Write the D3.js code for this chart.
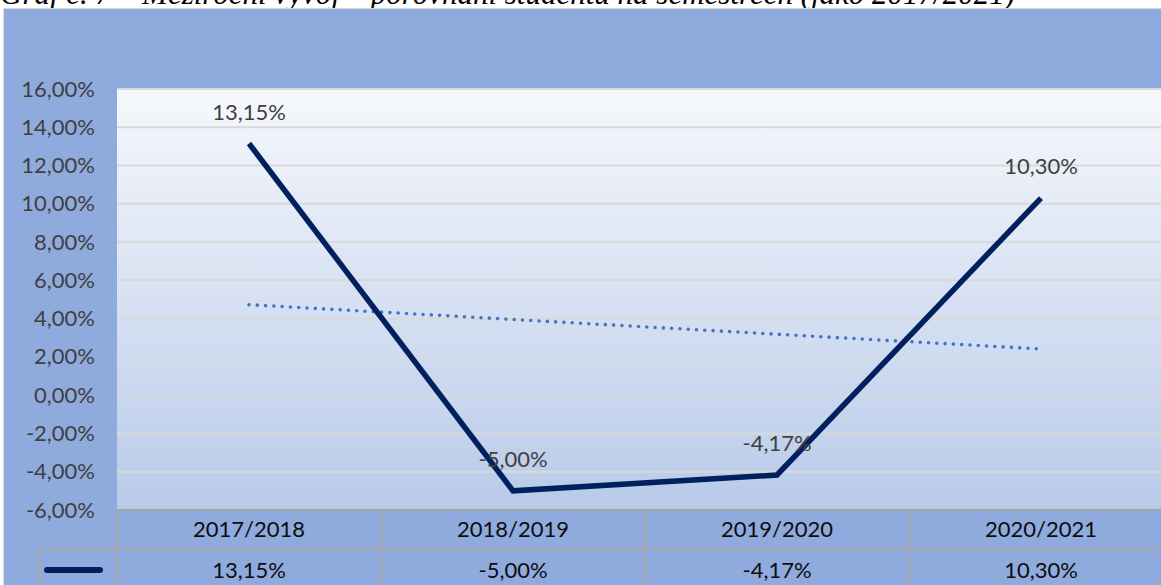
<!DOCTYPE html>
<html><head><meta charset="utf-8">
<script src="https://cdn.jsdelivr.net/npm/d3@7"></script>
<style>html,body{margin:0;padding:0;background:#fff;overflow:hidden}svg{display:block}</style>
</head><body>
<script>
const categories = ["2017/2018", "2018/2019", "2019/2020", "2020/2021"];
const values = [13.15, -5.00, -4.17, 10.30];
const yTicks = [-6, -4, -2, 0, 2, 4, 6, 8, 10, 12, 14, 16];
const caption = "Graf č. 7 – Meziroční vývoj – porovnání studentů na semestrech (jako 2017/2021)";

const W = 1161, H = 585;
const locale = d3.formatLocale({decimal: ",", thousands: " ", grouping: [3], currency: ["", ""], minus: "-"});
const fmt = v => locale.format(".2f")(v) + "%";
const font = "Lato, 'Open Sans', sans-serif";
const fs = 22;

const svg = d3.select("body").append("svg").attr("width", W).attr("height", H);

// caption (cut off at top, as in the source)
svg.append("text").attr("x", 0).attr("y", 4)
  .attr("font-family", "'Liberation Serif', serif").attr("font-style", "italic")
  .attr("font-size", 31).attr("fill", "#000").text(caption);

// chart area
svg.append("rect").attr("x", 3.5).attr("y", 8.5).attr("width", W).attr("height", H)
  .attr("fill", "#8FAADC").attr("stroke", "#D9D9D9");

const x0 = 117, bw = 264;
const x = d3.scaleBand().domain(categories).range([x0, x0 + bw * categories.length]);
const y = d3.scaleLinear().domain([-6, 16]).range([510, 89]);

const defs = svg.append("defs");
const g = defs.append("linearGradient").attr("id", "pg").attr("x1", 0).attr("y1", 0).attr("x2", 0).attr("y2", 1);
g.append("stop").attr("offset", 0).attr("stop-color", "#F6F8FC");
g.append("stop").attr("offset", 1).attr("stop-color", "#B8CAE9");

svg.append("rect").attr("x", x0).attr("y", y(16)).attr("width", bw * 4 + 20).attr("height", y(-6) - y(16))
  .attr("fill", "url(#pg)");

// gridlines
svg.append("g").selectAll("line").data(yTicks.filter(t => t > -6)).join("line")
  .attr("x1", x0).attr("x2", W).attr("y1", d => y(d)).attr("y2", d => y(d))
  .attr("stroke", "#D9D9D9").attr("stroke-width", 2);

// y axis labels
const yAxis = d3.axisLeft(y).tickValues(yTicks).tickFormat(fmt).tickSize(0).tickPadding(0);
const ya = svg.append("g").attr("transform", "translate(95,0)").call(yAxis);
ya.select(".domain").remove();
ya.selectAll("text").attr("font-family", font).attr("font-size", fs).attr("fill", "#404040");

// trendline (linear regression of the series)
const xs = values.map((d, i) => i + 1);
const mx = d3.mean(xs), my = d3.mean(values);
const slope = d3.sum(xs.map((xi, i) => (xi - mx) * (values[i] - my))) / d3.sum(xs.map(xi => (xi - mx) ** 2));
const trend = xs.map(xi => my + slope * (xi - mx));
const line = d3.line().x((d, i) => x(categories[i]) + x.bandwidth() / 2).y(d => y(d));
svg.append("path").attr("d", line(trend)).attr("fill", "none")
  .attr("stroke", "#4472C4").attr("stroke-width", 3.6).attr("stroke-linecap", "round")
  .attr("stroke-dasharray", "0 8.3");

// main line
svg.append("path").attr("d", line(values)).attr("fill", "none")
  .attr("stroke", "#002060").attr("stroke-width", 5.5).attr("stroke-linejoin", "miter");

// data labels
svg.append("g").selectAll("text").data(values).join("text")
  .attr("x", (d, i) => x(categories[i]) + x.bandwidth() / 2)
  .attr("y", d => y(d) - 24)
  .attr("text-anchor", "middle").attr("font-family", font).attr("font-size", fs)
  .attr("fill", "#404040").text(fmt);

// data table
const tb = svg.append("g");
const r0 = 510, r1 = 549, r2 = 600;
const gridC = "#A6A6A6";
tb.append("line").attr("x1", x0).attr("x2", W).attr("y1", r0).attr("y2", r0).attr("stroke", gridC).attr("stroke-width", 2);
tb.append("line").attr("x1", 39).attr("x2", W).attr("y1", r1).attr("y2", r1).attr("stroke", gridC).attr("stroke-width", 2);
tb.append("line").attr("x1", 39).attr("x2", 39).attr("y1", r1).attr("y2", r2).attr("stroke", gridC).attr("stroke-width", 2);
tb.selectAll("line.v").data(categories).join("line").attr("class", "v")
  .attr("x1", d => x(d)).attr("x2", d => x(d)).attr("y1", r0).attr("y2", r2)
  .attr("stroke", gridC).attr("stroke-width", 2);
tb.selectAll("text.c").data(categories).join("text").attr("class", "c")
  .attr("x", d => x(d) + x.bandwidth() / 2).attr("y", 537)
  .attr("text-anchor", "middle").attr("font-family", font).attr("font-size", fs)
  .attr("fill", "#0D0D0D").text(d => d);
tb.selectAll("text.v").data(values).join("text").attr("class", "v")
  .attr("x", (d, i) => x(categories[i]) + x.bandwidth() / 2).attr("y", 578)
  .attr("text-anchor", "middle").attr("font-family", font).attr("font-size", fs)
  .attr("fill", "#0D0D0D").text(fmt);
// legend key
tb.append("line").attr("x1", 47).attr("x2", 100).attr("y1", 570).attr("y2", 570)
  .attr("stroke", "#002060").attr("stroke-width", 6).attr("stroke-linecap", "round");
</script>
</body></html>
